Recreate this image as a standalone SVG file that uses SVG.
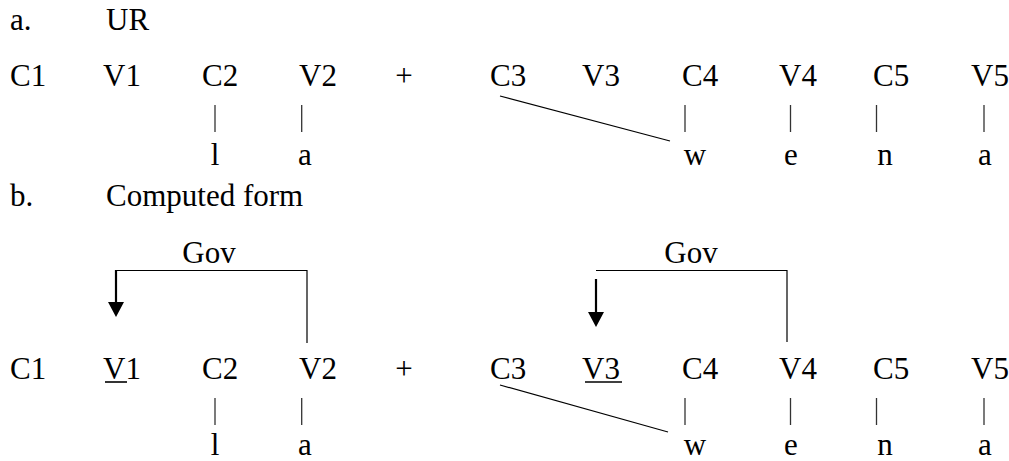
<svg xmlns="http://www.w3.org/2000/svg" width="1009" height="461" viewBox="0 0 1009 461">
<style>
text{font-family:"Liberation Serif","DejaVu Serif",serif;font-size:31px;fill:#000}
.m{text-anchor:middle}
.t{stroke:#000;stroke-width:1.2;fill:none}
.b{stroke:#333;stroke-width:1.3}
.u{stroke:#000;stroke-width:1.6}
.ar{stroke:#000;stroke-width:2.2;fill:none}
</style>
<defs>
<marker id="ah" markerUnits="userSpaceOnUse" markerWidth="16" markerHeight="16" viewBox="0 0 15 16" refX="5" refY="8" orient="auto">
<path d="M0,0 L15,8 L0,16 z" fill="#000"/>
</marker>
</defs>
<rect width="1009" height="461" fill="#fff"/>
<!-- headings -->
<g id="head-a"><text x="10" y="30">a.</text><text x="106" y="30">UR</text></g>
<g id="head-b"><text x="10" y="206">b.</text><text x="106" y="206">Computed form</text></g>
<!-- row a -->
<g id="a-C1"><text x="10" y="86">C1</text></g>
<g id="a-V1"><text x="103" y="86">V1</text></g>
<g id="a-C2"><text x="202" y="86">C2</text><text class="m" x="215" y="165">l</text></g>
<g id="a-V2"><text x="299" y="86">V2</text><text class="m" x="305" y="165">a</text></g>
<g id="a-plus"><text class="m" x="404" y="86">+</text></g>
<g id="a-C3"><text x="490" y="86">C3</text></g>
<g id="a-V3"><text x="582" y="86">V3</text></g>
<g id="a-C4"><text x="682" y="86">C4</text><text class="m" x="695" y="165">w</text></g>
<g id="a-V4"><text x="779" y="86">V4</text><text class="m" x="791" y="165">e</text></g>
<g id="a-C5"><text x="873" y="86">C5</text><text class="m" x="885" y="165">n</text></g>
<g id="a-V5"><text x="971" y="86">V5</text><text class="m" x="985" y="165">a</text></g>
<!-- row b -->
<g id="b-C1"><text x="10" y="379">C1</text></g>
<g id="b-V1"><text x="103" y="379">V1</text><line class="u" x1="105" y1="382" x2="127" y2="382"/></g>
<g id="b-C2"><text x="202" y="379">C2</text><text class="m" x="215" y="455">l</text></g>
<g id="b-V2"><text x="299" y="379">V2</text><text class="m" x="305" y="455">a</text></g>
<g id="b-plus"><text class="m" x="404" y="379">+</text></g>
<g id="b-C3"><text x="490" y="379">C3</text></g>
<g id="b-V3"><text x="582" y="379">V3</text><line class="u" x1="585" y1="382" x2="622" y2="382"/></g>
<g id="b-C4"><text x="682" y="379">C4</text><text class="m" x="695" y="455">w</text></g>
<g id="b-V4"><text x="779" y="379">V4</text><text class="m" x="791" y="455">e</text></g>
<g id="b-C5"><text x="873" y="379">C5</text><text class="m" x="885" y="455">n</text></g>
<g id="b-V5"><text x="971" y="379">V5</text><text class="m" x="985" y="455">a</text></g>
<g id="gov1-label"><text class="m" x="209" y="263">Gov</text></g>
<g id="gov2-label"><text class="m" x="691" y="263">Gov</text></g>
<!-- connectors -->
<g id="connectors">
<line class="b" x1="215" y1="105" x2="215" y2="132"/>
<line class="b" x1="301.7" y1="105" x2="301.7" y2="132"/>
<line class="b" x1="685" y1="105" x2="685" y2="132"/>
<line class="b" x1="790.5" y1="105" x2="790.5" y2="132"/>
<line class="b" x1="876.5" y1="105" x2="876.5" y2="132"/>
<line class="b" x1="984" y1="105" x2="984" y2="132"/>
<line class="t" x1="500" y1="96" x2="670" y2="141"/>
<line class="b" x1="215" y1="398" x2="215" y2="425"/>
<line class="b" x1="301.7" y1="398" x2="301.7" y2="425"/>
<line class="b" x1="685" y1="398" x2="685" y2="425"/>
<line class="b" x1="790.5" y1="398" x2="790.5" y2="425"/>
<line class="b" x1="876.5" y1="398" x2="876.5" y2="425"/>
<line class="b" x1="984" y1="398" x2="984" y2="425"/>
<line class="t" x1="500" y1="385" x2="668" y2="432"/>
<polyline class="t" points="307,343 307,270.5 116,270.5"/>
<line class="ar" x1="116" y1="270" x2="116" y2="307" marker-end="url(#ah)"/>
<polyline class="t" points="787,342 787,270.5 596,270.5"/>
<line class="ar" x1="596" y1="279" x2="596" y2="317" marker-end="url(#ah)"/>
</g>
</svg>
